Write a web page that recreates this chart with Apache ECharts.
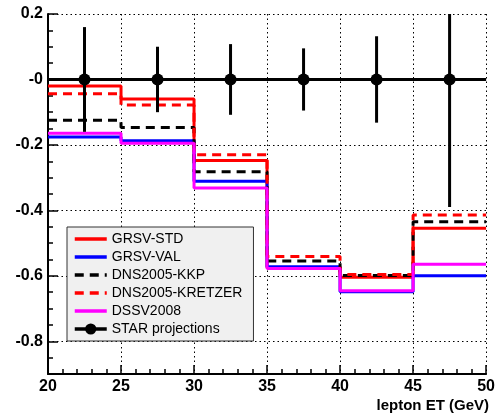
<!DOCTYPE html>
<html>
<head>
<meta charset="utf-8">
<script src="https://cdn.jsdelivr.net/npm/echarts@6/dist/echarts.min.js"></script>
<style>
  html, body { margin: 0; padding: 0; background: #fff; }
  #main { width: 498px; height: 414px; }
</style>
</head>
<body>
<div id="main"></div>
<script>
// bin edges of the lepton ET histograms (GeV)
const binEdges = [20, 25, 30, 35, 40, 45, 50];

// asymmetry per bin for each model
const grsvStd    = [-0.020, -0.060, -0.248, -0.575, -0.604, -0.455];
const grsvVal    = [-0.176, -0.187, -0.311, -0.572, -0.649, -0.600];
const dnsKkp     = [-0.125, -0.147, -0.282, -0.555, -0.599, -0.435];
const dnsKretzer = [-0.044, -0.078, -0.230, -0.541, -0.596, -0.414];
const dssv       = [-0.164, -0.195, -0.332, -0.578, -0.646, -0.565];

// STAR projections (points at bin centres, error = half bin width in x)
const starX    = [22.5, 27.5, 32.5, 37.5, 42.5, 47.5];
const starY    = [0, 0, 0, 0, 0, 0];
const starYErr = [0.160, 0.100, 0.108, 0.095, 0.132, 0.390];
const starXErr = [2.5, 2.5, 2.5, 2.5, 2.5, 2.5];

// axis ticks
const yTicks = [-0.8, -0.6, -0.4, -0.2, 0, 0.2];
const yTickLabels = ['-0.8', '-0.6', '-0.4', '-0.2', '-0', '0.2'];

const modelNames = ['GRSV-STD', 'GRSV-VAL', 'DNS2005-KKP', 'DNS2005-KRETZER', 'DSSV2008'];
const starName = 'STAR projections';

const font = '"Liberation Sans", Arial, sans-serif';
const gridLine = { show: true, lineStyle: { color: '#000', width: 1, type: [1.5, 3] } };

// histogram -> step points: each edge paired with its bin value, last edge repeats
function toSteps(vals) {
  let pts = [];
  for (let i = 0; i < vals.length; i++) {
    pts.push([binEdges[i], vals[i]]);
  }
  pts.push([binEdges[binEdges.length - 1], vals[vals.length - 1]]);
  return pts;
}

function stepSeries(name, vals, color, dashed) {
  return {
    name: name,
    type: 'line',
    step: 'end',
    symbol: 'none',
    data: toSteps(vals),
    lineStyle: { color: color, width: 3, type: dashed ? [9, 6] : 'solid' },
    itemStyle: { color: color }
  };
}

let starPts = [];
let starErrPts = [];
for (let i = 0; i < starX.length; i++) {
  starPts.push([starX[i], starY[i]]);
  starErrPts.push([starX[i], starY[i], starYErr[i], starXErr[i]]);
}

// legend entries: models show only their line, no marker
let legendData = modelNames.map(function (n) {
  return { name: n, itemStyle: { opacity: 0 }, lineStyle: { width: 3.5 } };
});
legendData.push({ name: starName, lineStyle: { width: 3.5 } });

let myChart = echarts.init(document.getElementById('main'));

let option = {
  animation: false,
  backgroundColor: '#fff',
  grid: { left: 48, right: 11, top: 14, bottom: 40 },
  title: {
    text: 'lepton ET (GeV)',
    right: 9,
    top: 398,
    padding: 0,
    textStyle: { fontFamily: font, fontWeight: 'bold', fontSize: 15, color: '#000' }
  },
  legend: {
    left: 67,
    top: 227,
    orient: 'vertical',
    backgroundColor: '#f0f0f0',
    borderColor: '#333',
    borderWidth: 1,
    borderRadius: 0,
    padding: [5, 11, 5, 6],
    itemGap: 4,
    itemWidth: 32,
    itemHeight: 14,
    itemTextGap: 8,
    textStyle: { fontFamily: font, fontSize: 14, color: '#000' },
    data: legendData
  },
  xAxis: {
    type: 'value',
    min: 20,
    max: 50,
    interval: 5,
    axisLine: { show: true, onZero: false, lineStyle: { color: '#000', width: 2 } },
    axisTick: { show: true, inside: true, length: 9, lineStyle: { color: '#000', width: 1.5 } },
    minorTick: { show: true, splitNumber: 5, length: 5, lineStyle: { color: '#000', width: 1.5 } },
    axisLabel: { margin: 5, fontFamily: font, fontWeight: 'bold', fontSize: 16, color: '#000' },
    splitLine: gridLine
  },
  yAxis: [
    {
      // minor ticks every 0.05
      type: 'value',
      min: -0.9,
      max: 0.2,
      interval: 0.05,
      axisLine: { show: true, onZero: false, lineStyle: { color: '#000', width: 2 } },
      axisTick: { show: true, inside: true, length: 5, lineStyle: { color: '#000', width: 1.5 } },
      axisLabel: { show: false },
      splitLine: { show: false }
    },
    {
      // major ticks, labels and grid
      type: 'value',
      position: 'left',
      min: -0.9,
      max: 0.2,
      interval: 0.1,
      axisLine: { show: false },
      axisTick: { show: true, inside: true, length: 10, customValues: yTicks, lineStyle: { color: '#000', width: 1.5 } },
      axisLabel: {
        customValues: yTicks,
        margin: 5,
        fontFamily: font, fontWeight: 'bold', fontSize: 16, color: '#000',
        formatter: function (v) {
          for (let i = 0; i < yTicks.length; i++) {
            if (Math.abs(yTicks[i] - v) < 1e-6) return yTickLabels[i];
          }
          return '';
        }
      },
      splitLine: gridLine
    }
  ],
  series: [
    stepSeries(modelNames[0], grsvStd, '#ff0000', false),
    stepSeries(modelNames[1], grsvVal, '#0000ff', false),
    stepSeries(modelNames[2], dnsKkp, '#000000', true),
    stepSeries(modelNames[3], dnsKretzer, '#ff0000', true),
    stepSeries(modelNames[4], dssv, '#ff00ff', false),
    {
      // error bars of the projections
      type: 'custom',
      clip: true,
      data: starErrPts,
      renderItem: function (params, api) {
        let x = api.value(0), y = api.value(1), ey = api.value(2), ex = api.value(3);
        let lo = api.coord([x, y - ey]);
        let hi = api.coord([x, y + ey]);
        let l = api.coord([x - ex, y]);
        let r = api.coord([x + ex, y]);
        let st = { stroke: '#000', lineWidth: 3 };
        return {
          type: 'group',
          children: [
            { type: 'line', shape: { x1: lo[0], y1: lo[1], x2: hi[0], y2: hi[1] }, style: st },
            { type: 'line', shape: { x1: l[0], y1: l[1], x2: r[0], y2: r[1] }, style: st }
          ]
        };
      },
      z: 5
    },
    {
      name: starName,
      type: 'line',
      data: starPts,
      symbol: 'circle',
      symbolSize: 12,
      lineStyle: { color: '#000', width: 3 },
      itemStyle: { color: '#000' },
      z: 6
    }
  ]
};

myChart.setOption(option);
</script>
</body>
</html>
